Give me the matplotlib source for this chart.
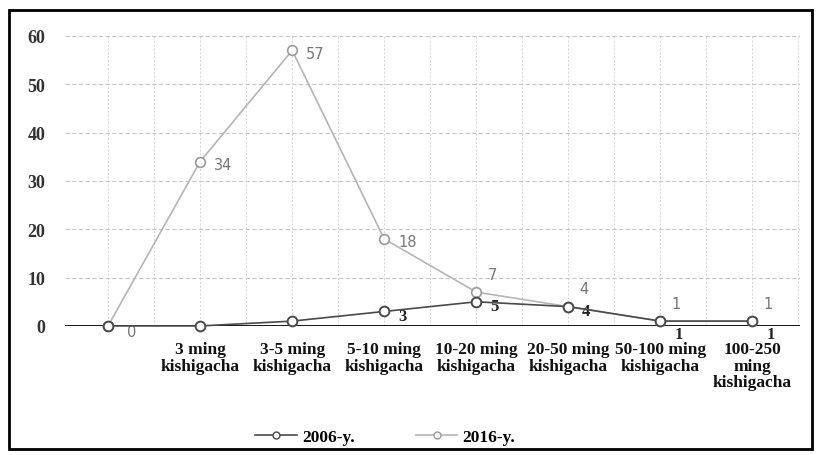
#!/usr/bin/env python3
"""Line chart: number of settlements by population size, 2006 vs 2016."""
import matplotlib
matplotlib.use("Agg")
import matplotlib.pyplot as plt
from matplotlib.lines import Line2D
from matplotlib.patches import Rectangle

CATEGORIES = [
    "",
    "3 ming\nkishigacha",
    "3-5 ming\nkishigacha",
    "5-10 ming\nkishigacha",
    "10-20 ming\nkishigacha",
    "20-50 ming\nkishigacha",
    "50-100 ming\nkishigacha",
    "100-250\nming\nkishigacha",
]
Y_2006 = [0, 0, 1, 3, 5, 4, 1, 1]
Y_2016 = [0, 34, 57, 18, 7, 4, 1, 1]
Y_TICKS = [0, 10, 20, 30, 40, 50, 60]

SERIF = ["Liberation Serif", "DejaVu Serif"]
C_2006 = "#4a4a4a"
C_2016 = "#b5b5b5"

fig = plt.figure(figsize=(8.2, 4.56), dpi=100)
ax = fig.add_axes([0.079, 0.283, 0.897, 0.636])

x = list(range(len(CATEGORIES)))

# grid
ax.set_axisbelow(True)
ax.grid(True, axis="y", color="#c8c8c8", lw=0.8, ls=(0, (4, 2)))
for xv in [i + 0.5 for i in range(-1, len(x))] + x:
    ax.axvline(xv, color="#d4d4d4", lw=0.7, ls=(0, (2, 2)), zorder=0)

ax.plot(x, Y_2016, color=C_2016, lw=1.2, marker="o", ms=7,
        mfc="white", mec="#9a9a9a", mew=1.2, clip_on=False, zorder=3)
ax.plot(x, Y_2006, color=C_2006, lw=1.2, marker="o", ms=7,
        mfc="white", mec=C_2006, mew=1.4, clip_on=False, zorder=4)

# thick baseline at zero
ax.axhline(0, color="black", lw=2.0, zorder=2)

# data labels
for xi, v in zip(x, Y_2016):
    if xi >= 4:
        off = (8, 13)
    elif xi == 0:
        off = (14, -4)
    else:
        off = (10, -2)
    ax.annotate(str(v), (xi, v), xytext=off, textcoords="offset points",
                color="#777777", fontsize=10.5, ha="left", va="center")
for xi, v in zip(x, Y_2006):
    if xi < 3:
        continue
    dy = -9 if xi >= 6 else -3
    ax.annotate(str(v), (xi, v), xytext=(10, dy), textcoords="offset points",
                color="#222222", fontsize=12, fontweight="bold",
                family=SERIF, ha="left", va="center")

ax.set_xlim(-0.47, 7.52)
ax.set_ylim(0, 60)
ax.set_yticks(Y_TICKS)
ax.set_yticklabels([str(t) for t in Y_TICKS], family=SERIF, fontweight="bold",
                   fontsize=13, color="#333333")
ax.set_xticks(x)
ax.set_xticklabels(CATEGORIES, family=SERIF, fontweight="bold", fontsize=12.5,
                   color="#111111", linespacing=1.05)
ax.tick_params(length=0, pad=11)
ax.tick_params(axis="y", pad=14)
for s in ax.spines.values():
    s.set_visible(False)

handles = [
    Line2D([], [], color=C_2006, lw=1.2, marker="o", ms=5, mfc="white", mec=C_2006),
    Line2D([], [], color=C_2016, lw=1.2, marker="o", ms=5, mfc="white", mec="#9a9a9a"),
]
fig.legend(handles, ["2006-y.", "2016-y."], loc="center", bbox_to_anchor=(0.47, 0.04),
           ncol=2, frameon=False, handlelength=2.4, columnspacing=3.5,
           handletextpad=0.3,
           prop={"family": SERIF, "weight": "bold", "size": 12.5})

# outer frame
fig.patches.append(Rectangle((0.011, 0.013), 0.979, 0.963, transform=fig.transFigure,
                             fill=False, ec="black", lw=2.0))

fig.savefig("out.png", dpi=100)
